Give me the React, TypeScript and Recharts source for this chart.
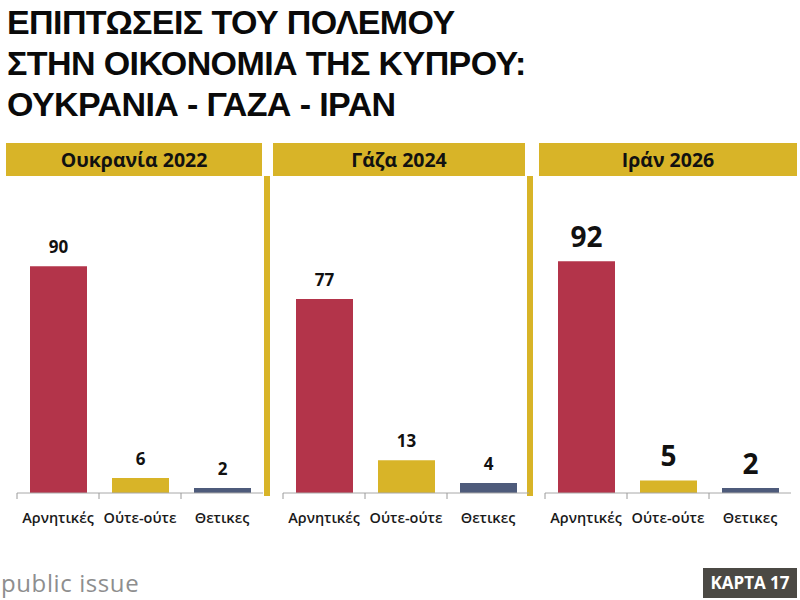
import React from 'react';
import { BarChart, Bar, XAxis, YAxis, Cell, LabelList } from 'recharts';

const titleLines = ['ΕΠΙΠΤΩΣΕΙΣ ΤΟΥ ΠΟΛΕΜΟΥ', 'ΣΤΗΝ ΟΙΚΟΝΟΜΙΑ ΤΗΣ ΚΥΠΡΟΥ:', 'ΟΥΚΡΑΝΙΑ - ΓΑΖΑ - ΙΡΑΝ'];
const categories = ['Αρνητικές', 'Ούτε-ούτε', 'Θετικες'];
const panelTitles = ['Ουκρανία 2022', 'Γάζα 2024', 'Ιράν 2026'];
const ukraine2022 = [90, 6, 2];
const gaza2024 = [77, 13, 4];
const iran2026 = [92, 5, 2];
const barColors = ['#B3344A', '#D8B428', '#4E5B7B'];
const GOLD = '#D8B428';
const FONT = '"Open Sans", sans-serif';
const TITLE_FONT = '"Liberation Sans", Arial, sans-serif';

const toRows = (vals: number[]) => categories.map((c, i) => ({ name: c, value: vals[i] }));

const BandTick = (props: any) => {
  const { x, y, payload } = props;
  const off = payload && typeof payload.offset === 'number' ? payload.offset : 41;
  return (
    <g>
      <line x1={x - off} y1={y} x2={x - off} y2={y + 6} stroke="#9a9a9a" strokeWidth={1} />
      <text x={x} y={y + 30} textAnchor="middle" fontFamily={FONT} fontWeight={600} fontSize={14.5} fill="#1a1a1a">
        {payload.value}
      </text>
    </g>
  );
};

type PanelProps = { vals: number[]; left: number; labelSize: number; labelOffset: number };

const Panel = ({ vals, left, labelSize, labelOffset }: PanelProps) => (
  <div style={{ position: 'absolute', left: left - 12, top: 180 }}>
    <BarChart width={270} height={360} data={toRows(vals)} margin={{ top: 61, right: 12, bottom: 17, left: 12 }} barCategoryGap={0}>
      <XAxis dataKey="name" axisLine={{ stroke: '#a8a8a8' }} tickLine={false} tickSize={0} tickMargin={0} height={30} tick={<BandTick />} interval={0} />
      <YAxis hide domain={[0, 100]} />
      <Bar dataKey="value" barSize={57} isAnimationActive={false}>
        {vals.map((_, i) => (
          <Cell key={i} fill={barColors[i]} />
        ))}
        <LabelList dataKey="value" position="top" offset={labelOffset} fontFamily={FONT} fontWeight={700} fontSize={labelSize} fill="#111" />
      </Bar>
    </BarChart>
  </div>
);

const headerBoxes = [
  { left: 6, width: 256 },
  { left: 273, width: 252 },
  { left: 539, width: 258 },
];

export default function App() {
  return (
    <div style={{ position: 'absolute', left: 0, top: 0, width: 800, height: 600, background: '#fff', overflow: 'hidden', fontFamily: FONT }}>
      {titleLines.map((t, i) => (
        <div key={i} style={{ position: 'absolute', left: 7, top: 3 + i * 41, fontFamily: TITLE_FONT, fontSize: 34, fontWeight: 700, color: '#0a0a0a', whiteSpace: 'nowrap', letterSpacing: -0.6, lineHeight: '38px' }}>
          {t}
        </div>
      ))}
      {headerBoxes.map((h, i) => (
        <div key={i} style={{ position: 'absolute', left: h.left, top: 143, width: h.width, height: 33, background: GOLD, color: '#111', fontSize: 19.5, fontWeight: 700, textAlign: 'center', lineHeight: '33px', whiteSpace: 'nowrap' }}>
          {panelTitles[i]}
        </div>
      ))}
      <div style={{ position: 'absolute', left: 264, top: 176, width: 6, height: 320, background: GOLD }} />
      <div style={{ position: 'absolute', left: 527, top: 176, width: 6, height: 320, background: GOLD }} />
      <Panel vals={ukraine2022} left={17} labelSize={17} labelOffset={13} />
      <Panel vals={gaza2024} left={283} labelSize={17} labelOffset={13} />
      <Panel vals={iran2026} left={545} labelSize={28} labelOffset={14} />
      <div style={{ position: 'absolute', left: 1, top: 568, fontSize: 24, color: '#8e8e8e', lineHeight: '30px', whiteSpace: 'nowrap', letterSpacing: 0.6 }}>public issue</div>
      <div style={{ position: 'absolute', left: 703, top: 568, width: 94, height: 30, background: '#4B4944', color: '#fff', fontSize: 17, fontWeight: 700, textAlign: 'center', lineHeight: '30px' }}>ΚΑΡΤΑ 17</div>
    </div>
  );
}
